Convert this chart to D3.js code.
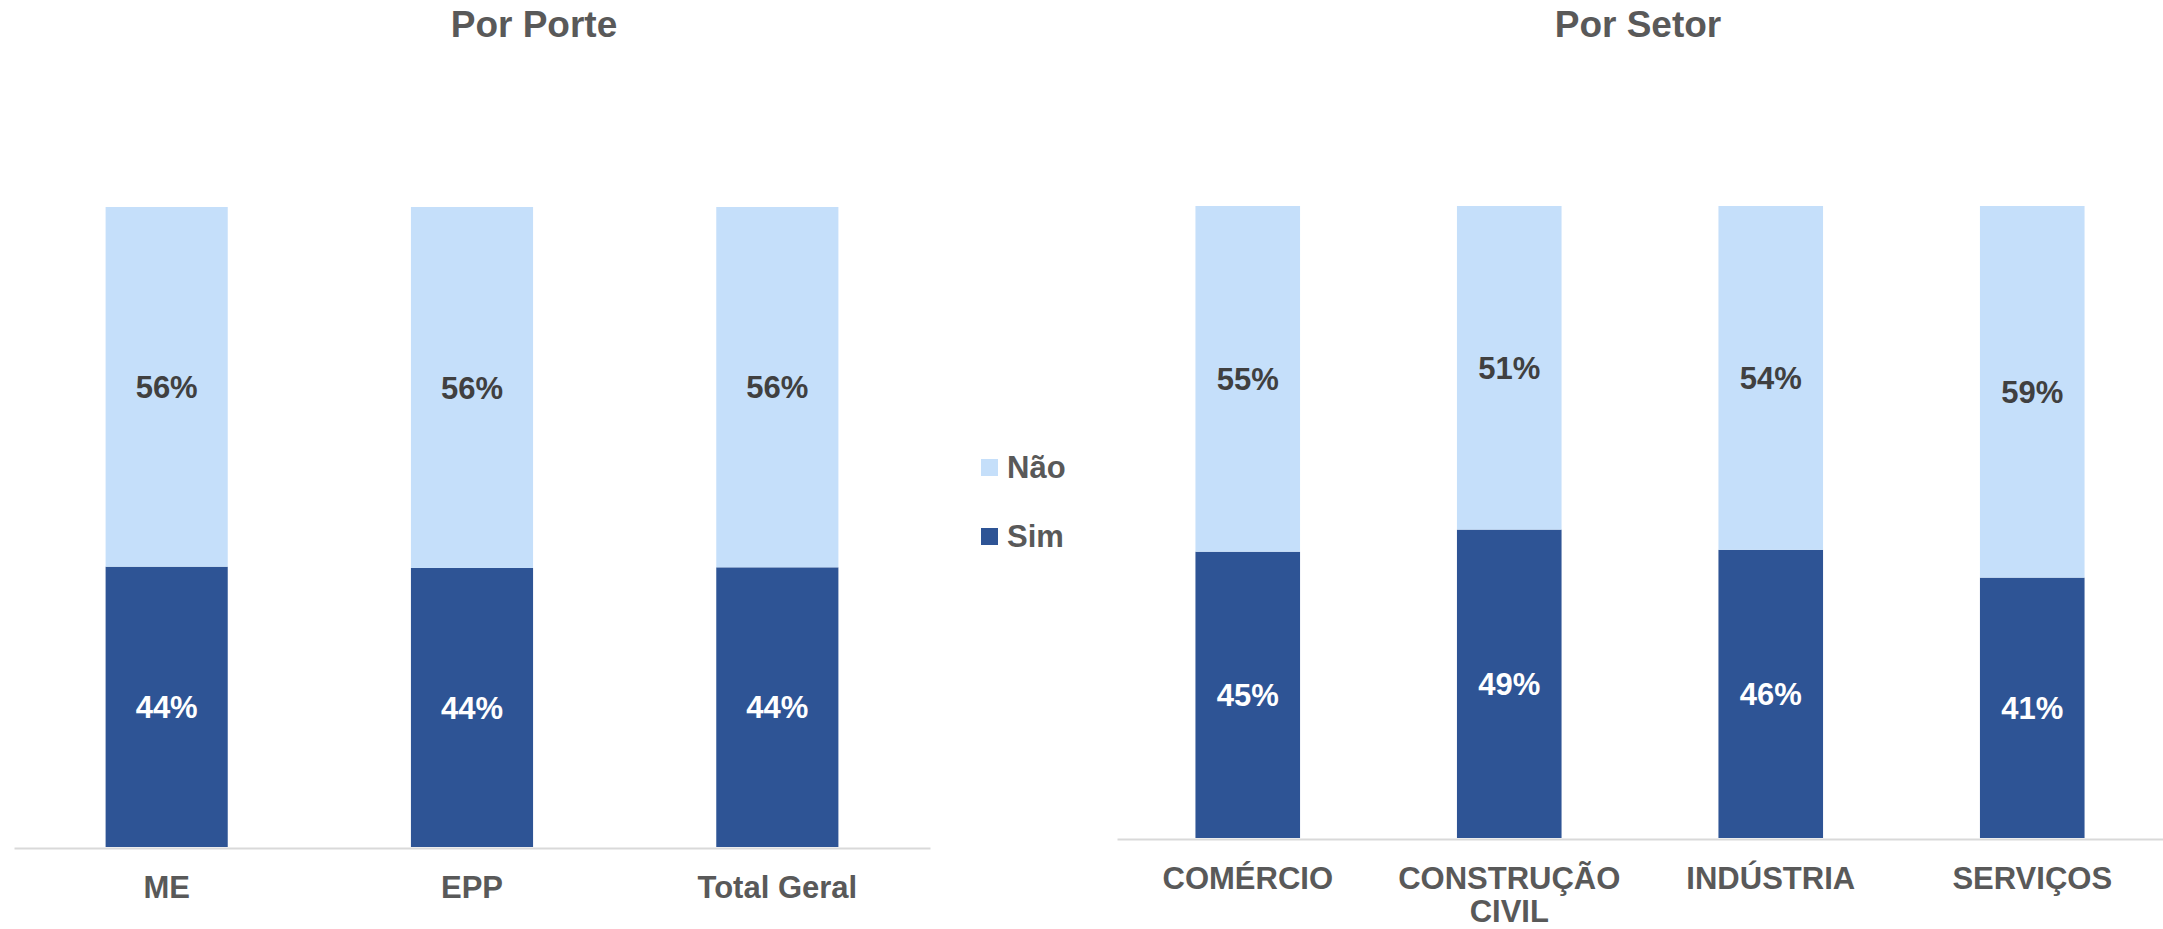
<!DOCTYPE html>
<html>
<head>
<meta charset="utf-8">
<script src="https://cdn.jsdelivr.net/npm/d3@7"></script>
<style>
  body { margin: 0; background: #fff; }
  text { font-family: "Liberation Sans", Arial, sans-serif; font-weight: bold; }
</style>
</head>
<body>
<div id="chart"></div>
<script>
// data
var porteCats = ["ME", "EPP", "Total Geral"];
var porteSim = [43.8, 43.6, 43.7];
var porteNao = [56.2, 56.4, 56.3];

var setorCats = ["COMÉRCIO", "CONSTRUÇÃO CIVIL", "INDÚSTRIA", "SERVIÇOS"];
var setorSim = [45.3, 48.8, 45.6, 41.2];
var setorNao = [54.7, 51.2, 54.4, 58.8];

var seriesNames = ["Não", "Sim"];
var colors = {"Sim": "#2E5495", "Não": "#C5DFFA"};

var W = 2163, H = 929;

var svg = d3.select("#chart")
  .append("svg")
    .attr("width", W)
    .attr("height", H);

function wrap(sel, width) {
  sel.each(function() {
    var t = d3.select(this);
    var words = t.text().split(" ");
    if (this.getComputedTextLength() <= width) return;
    var y = t.attr("y"), dy = t.attr("dy");
    t.text(null);
    words.forEach(function(w, i) {
      t.append("tspan")
        .attr("x", 0)
        .attr("y", y)
        .attr("dy", i == 0 ? dy : (i * 1.05) + "em")
        .text(w);
    });
  });
}

function stackedChart(cfg) {
  var g = svg.append("g");

  var x = d3.scaleBand()
    .domain(cfg.cats)
    .range([cfg.x0, cfg.x1])
    .paddingInner(0.6)
    .paddingOuter(0.3);

  var y = d3.scaleLinear()
    .domain([0, 100])
    .range([cfg.bottom, cfg.top]);

  var rows = cfg.cats.map(function(c, i) {
    return {cat: c, "Sim": cfg.sim[i], "Não": cfg.nao[i]};
  });
  var stack = d3.stack().keys(["Sim", "Não"])(rows);

  stack.forEach(function(layer) {
    var key = layer.key;
    g.append("g").selectAll("rect")
      .data(layer)
      .enter().append("rect")
        .attr("x", function(d) { return x(d.data.cat); })
        .attr("y", function(d) { return y(d[1]); })
        .attr("width", x.bandwidth())
        .attr("height", function(d) { return y(d[0]) - y(d[1]); })
        .attr("fill", colors[key]);

    g.append("g").selectAll("text")
      .data(layer)
      .enter().append("text")
        .attr("x", function(d) { return x(d.data.cat) + x.bandwidth() / 2; })
        .attr("y", function(d) { return (y(d[0]) + y(d[1])) / 2; })
        .attr("dy", "0.36em")
        .attr("text-anchor", "middle")
        .attr("font-size", "31px")
        .attr("fill", key == "Sim" ? "#ffffff" : "#404040")
        .text(function(d) { return Math.round(d[1] - d[0]) + "%"; });
  });

  var axis = g.append("g")
    .attr("transform", "translate(0," + (cfg.bottom + 1) + ")")
    .call(d3.axisBottom(x).tickSize(0).tickSizeOuter(0).tickPadding(0));
  axis.select(".domain")
    .attr("stroke", "#D9D9D9")
    .attr("stroke-width", 2);
  axis.selectAll(".tick text")
    .attr("y", 50)
    .attr("dy", "0em")
    .attr("font-size", "31px")
    .attr("font-family", "'Liberation Sans', Arial, sans-serif")
    .attr("font-weight", "bold")
    .attr("fill", "#595959")
    .call(wrap, x.step() - 10);

  g.append("text")
    .attr("x", cfg.titleX)
    .attr("y", 37)
    .attr("text-anchor", "middle")
    .attr("font-size", "37px")
    .attr("fill", "#595959")
    .text(cfg.title);
}

stackedChart({
  title: "Por Porte", titleX: 534,
  cats: porteCats, sim: porteSim, nao: porteNao,
  x0: 14, x1: 930, top: 207, bottom: 847
});

stackedChart({
  title: "Por Setor", titleX: 1638,
  cats: setorCats, sim: setorSim, nao: setorNao,
  x0: 1117, x1: 2163, top: 206, bottom: 838
});

// legend
var legend = svg.append("g")
  .attr("transform", "translate(981,459)");
var li = legend.selectAll("g")
  .data(seriesNames)
  .enter().append("g")
    .attr("transform", function(d, i) { return "translate(0," + (i * 69) + ")"; });
li.append("rect")
  .attr("width", 17)
  .attr("height", 17)
  .attr("fill", function(d) { return colors[d]; });
li.append("text")
  .attr("x", 26)
  .attr("y", 19)
  .attr("font-size", "31px")
  .attr("fill", "#595959")
  .text(function(d) { return d; });
</script>
</body>
</html>
